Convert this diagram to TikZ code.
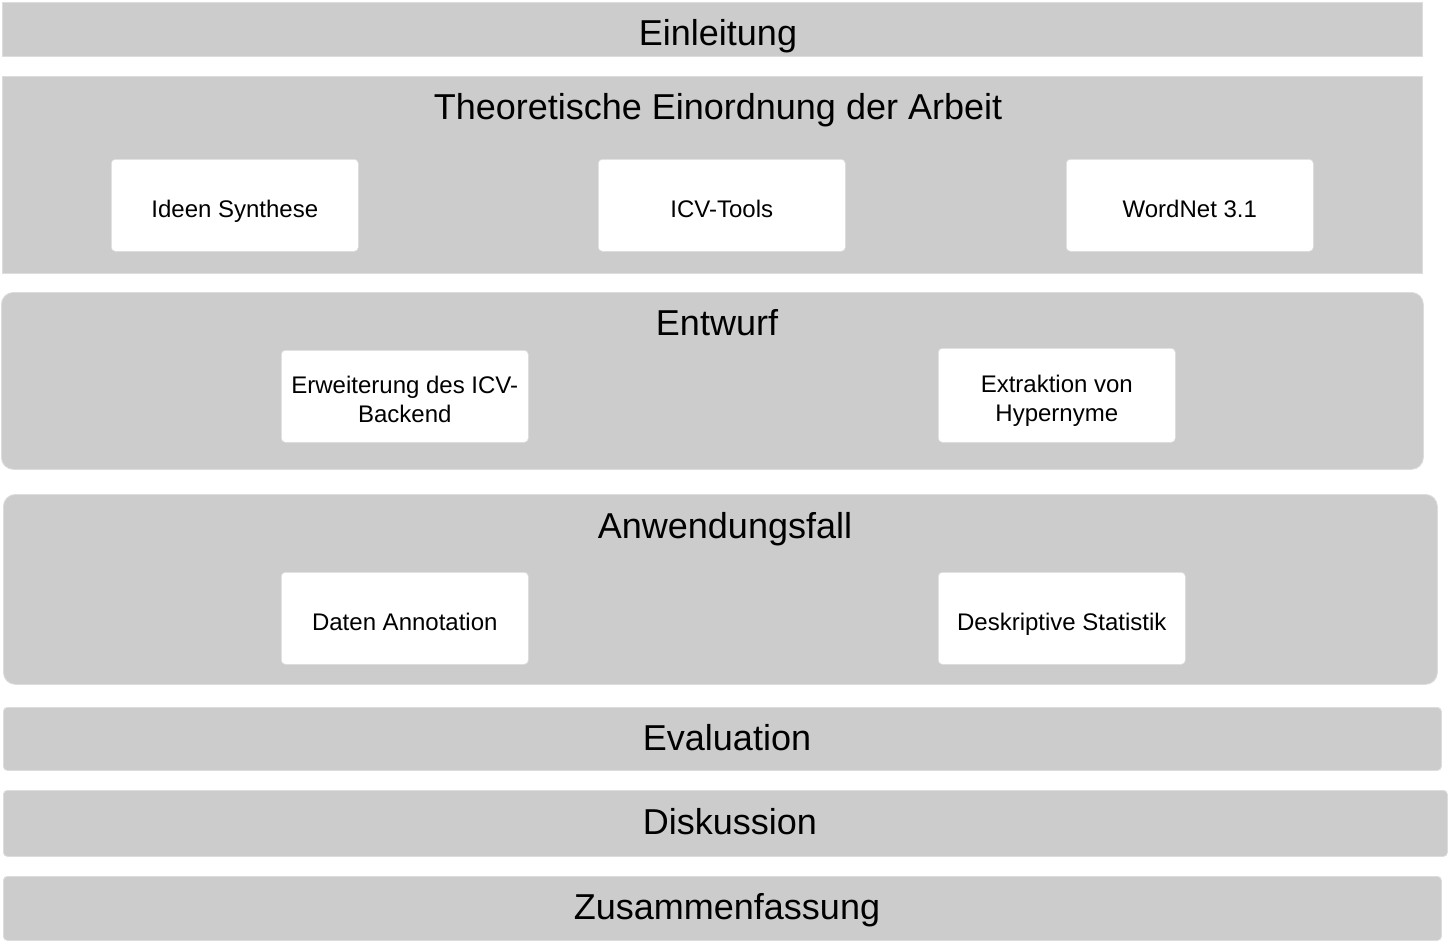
\documentclass[tikz,border=0pt]{standalone}
\usepackage{fontspec}
\setmainfont{Liberation Sans}
\begin{document}
\begin{tikzpicture}[x=1pt,y=-1pt,
  band/.style={fill=bandgray, draw=edgegray, line width=0.8pt, inner sep=0pt, anchor=north west},
  item/.style={fill=white, draw=edgegray, line width=0.6pt, inner sep=0pt, anchor=north west, rounded corners=4pt},
  bigtext/.style={anchor=base, inner sep=0pt, font=\fontsize{36}{43}\selectfont},
  smalltext/.style={anchor=base, inner sep=0pt, font=\fontsize{24}{29}\selectfont, align=center}]
\definecolor{bandgray}{HTML}{CCCCCC}
\definecolor{edgegray}{HTML}{DDDDDD}
\path[use as bounding box] (0,0) rectangle (1450,943);

% chapter bands
\node[band, minimum width=1420pt, minimum height=54pt] (einl) at (2,2) {};
\node[band, minimum width=1420pt, minimum height=197pt] (theo) at (2,76) {};
\node[band, rounded corners=12pt, minimum width=1422pt, minimum height=177pt] (entw) at (1,292) {};
\node[band, rounded corners=12pt, minimum width=1434pt, minimum height=190pt] (anw) at (3,494) {};
\node[band, rounded corners=4pt, minimum width=1438pt, minimum height=63pt] (eval) at (3,707) {};
\node[band, rounded corners=4pt, minimum width=1444pt, minimum height=66pt] (disk) at (3,790) {};
\node[band, rounded corners=4pt, minimum width=1438pt, minimum height=64pt] (zus) at (3,876) {};

% chapter titles
\node[bigtext] (einlT) at (718,45) {Einleitung};
\node[bigtext] (theoT) at (718,119) {Theoretische Einordnung der Arbeit};
\node[bigtext] (entwT) at (717,335) {Entwurf};
\node[bigtext] (anwT) at (725,538) {Anwendungsfall};
\node[bigtext] (evalT) at (727,750) {Evaluation};
\node[bigtext] (diskT) at (730,834) {Diskussion};
\node[bigtext] (zusT) at (727,919) {Zusammenfassung};

% section boxes
\node[item, minimum width=247pt, minimum height=92pt] (ideen) at (111,159) {};
\node[item, minimum width=247pt, minimum height=92pt] (icv) at (598,159) {};
\node[item, minimum width=247pt, minimum height=92pt] (wordnet) at (1066,159) {};
\node[item, minimum width=247pt, minimum height=92pt] (erw) at (281,350) {};
\node[item, minimum width=237pt, minimum height=94pt] (extr) at (938,348) {};
\node[item, minimum width=247pt, minimum height=92pt] (daten) at (281,572) {};
\node[item, minimum width=247pt, minimum height=92pt] (deskr) at (938,572) {};

% section labels (base anchor of a two-line label sits on its last line)
\node[smalltext] (ideenT) at (ideen.center |- 0,217) {Ideen Synthese};
\node[smalltext] (icvT) at (icv.center |- 0,217) {ICV-Tools};
\node[smalltext] (wordnetT) at (wordnet.center |- 0,217) {WordNet 3.1};
\node[smalltext] (erwT) at (erw.center |- 0,422) {Erweiterung des ICV-\\Backend};
\node[smalltext] (extrT) at (extr.center |- 0,421) {Extraktion von\\Hypernyme};
\node[smalltext] (datenT) at (daten.center |- 0,630) {Daten Annotation};
\node[smalltext] (deskrT) at (deskr.center |- 0,630) {Deskriptive Statistik};
\end{tikzpicture}
\end{document}
